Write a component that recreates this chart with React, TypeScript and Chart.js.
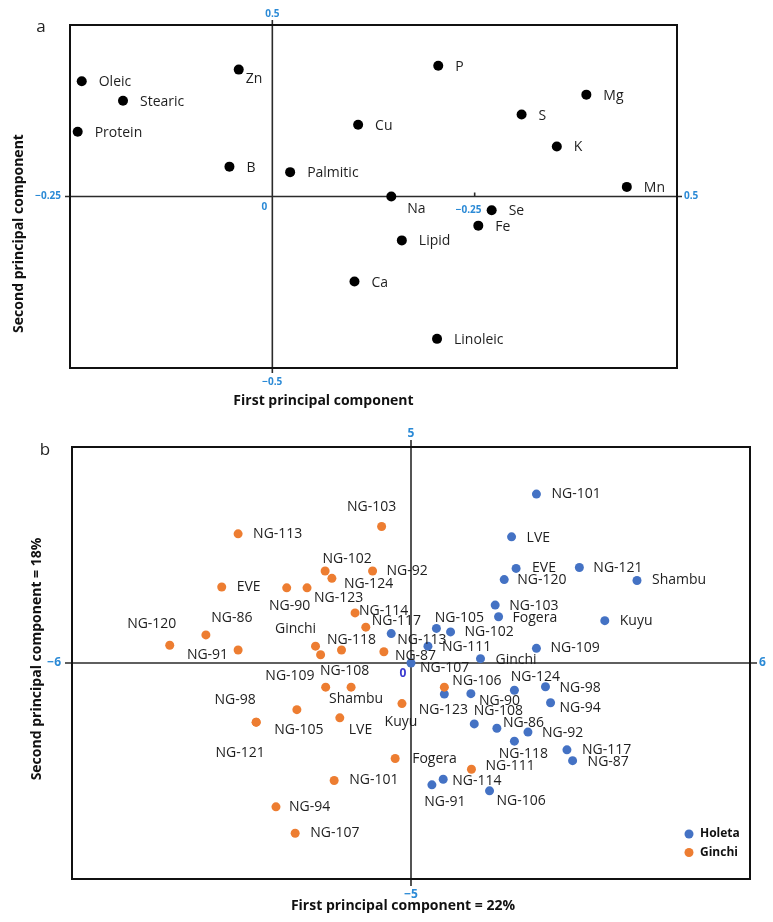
import React, { useEffect, useRef } from "react";
import { Chart, registerables } from "chart.js";

Chart.register(...registerables);

// ---------------- Panel a: variable loadings ----------------
const variableNames = ["Oleic", "Stearic", "Protein", "Zn", "B", "Palmitic", "Cu", "Na", "P", "Mg", "S", "K", "Mn", "Se", "Fe", "Lipid", "Ca", "Linoleic"];
const variablePC1 = [-0.471, -0.369, -0.481, -0.083, -0.106, 0.044, 0.212, 0.294, 0.41, 0.776, 0.616, 0.703, 0.876, 0.542, 0.509, 0.32, 0.203, 0.407];
const variablePC2 = [0.336, 0.279, 0.189, 0.37, 0.087, 0.071, 0.209, 0.0, 0.381, 0.297, 0.239, 0.146, 0.028, -0.04, -0.085, -0.128, -0.248, -0.415];
const panelATickLabels = ["0.5", "−0.5", "−0.25", "0.5", "0", "−0.25"]; // top, bottom, left, right, origin, mid-axis

// ---------------- Panel b: genotype scores ----------------
const holetaNames = ["NG-101", "LVE", "EVE", "NG-121", "NG-120", "Shambu", "NG-103", "Fogera", "Kuyu", "NG-105", "NG-102", "NG-109", "Ginchi", "NG-111", "NG-107", "NG-113", "NG-123", "NG-90", "NG-124", "NG-98", "NG-94", "NG-108", "NG-86", "NG-92", "NG-118", "NG-117", "NG-87", "NG-114", "NG-91", "NG-106"];
const holetaPC1 = [2.22, 1.78, 1.86, 2.98, 1.65, 4.0, 1.49, 1.55, 3.43, 0.45, 0.7, 2.22, 1.23, 0.3, 0.0, -0.35, 0.59, 1.06, 1.83, 2.38, 2.47, 1.12, 1.52, 2.07, 1.83, 2.76, 2.86, 0.57, 0.37, 1.39];
const holetaPC2 = [3.91, 2.92, 2.19, 2.21, 1.93, 1.91, 1.34, 1.07, 0.98, 0.8, 0.72, 0.34, 0.1, 0.39, 0.0, 0.68, -0.72, -0.71, -0.63, -0.55, -0.92, -1.41, -1.51, -1.6, -1.81, -2.01, -2.26, -2.69, -2.82, -2.96];

const ginchiNames = ["NG-103", "NG-113", "NG-102", "NG-92", "NG-124", "EVE", "NG-90", "NG-123", "NG-114", "NG-117", "NG-86", "NG-120", "NG-91", "Ginchi", "NG-118", "NG-109", "NG-87", "NG-108", "Shambu", "NG-105", "NG-98", "NG-121", "LVE", "Kuyu", "Fogera", "NG-101", "NG-94", "NG-107", "NG-106", "NG-111"];
const ginchiPC1 = [-0.52, -3.06, -1.52, -0.68, -1.4, -3.35, -2.2, -1.84, -0.99, -0.8, -3.63, -4.27, -3.06, -1.69, -1.23, -1.6, -0.48, -1.51, -1.06, -2.02, -2.74, -2.74, -1.26, -0.16, -0.28, -1.36, -2.39, -2.05, 0.59, 1.07];
const ginchiPC2 = [3.16, 2.99, 2.13, 2.13, 1.96, 1.76, 1.74, 1.74, 1.16, 0.83, 0.65, 0.41, 0.3, 0.39, 0.3, 0.19, 0.26, -0.56, -0.56, -1.08, -1.37, -1.37, -1.27, -0.94, -2.21, -2.72, -3.33, -3.94, -0.56, -2.46];
const panelBTickLabels = ["5", "−5", "−6", "6", "0"]; // top, bottom, left, right, origin
const locationNames = ["Holeta", "Ginchi"];

// ---------------- label placements (layout only) ----------------
type Place = [number, number, "l" | "c" | "r"];
const variablePlace: Place[] = variableNames.map((n) =>
  n === "Zn" ? [7, 9, "l"] : n === "Na" ? [16, 13, "l"] : [17, 1, "l"]
);
const holetaPlace: Place[] = [
  [15, 0, "l"], [15, 1, "l"], [16, 0, "l"], [14, 0, "l"], [13, 0, "l"], [15, 0, "l"], [14, 1, "l"], [14, 1, "l"], [15, 0, "l"], [23, -10, "c"],
  [14, 0, "l"], [14, 0, "l"], [15, 1, "l"], [14, 1, "l"], [9, 5, "l"], [6, 6, "l"], [-1, 16, "c"], [8, 7, "l"], [21, -13, "c"], [14, 1, "l"],
  [9, 5, "l"], [24, -13, "c"], [6, -5, "l"], [14, 1, "l"], [9, 13, "c"], [15, 0, "l"], [15, 1, "l"], [9, 2, "l"], [13, 17, "c"], [7, 10, "l"],
];
const ginchiPlace: Place[] = [
  [-10, -19, "c"], [15, 0, "l"], [22, -12, "c"], [14, 0, "l"], [12, 6, "l"], [15, 0, "l"], [3, 18, "c"], [7, 10, "l"], [4, -2, "l"], [6, -6, "l"],
  [26, -17, "c"], [-18, -21, "c"], [-10, 5, "r"], [-20, -17, "c"], [10, -10, "c"], [-6, 21, "r"], [11, 4, "l"], [19, -16, "c"], [5, 12, "c"], [2, 20, "c"],
  [-21, -22, "c"], [-16, 31, "c"], [9, 12, "l"], [-1, 18, "c"], [17, 1, "l"], [15, 0, "l"], [13, 0, "l"], [15, 0, "l"], [8, -6, "l"], [14, -3, "l"],
];

const FONT = '"Open Sans", "Liberation Sans", sans-serif';
const TICK_BLUE = "#2b8ad6";
const BLUE = "#4472c4";
const ORANGE = "#ed7d31";

function txt(ctx: CanvasRenderingContext2D, s: string, x: number, y: number, font: string, color: string, align: CanvasTextAlign = "center") {
  ctx.font = font;
  ctx.fillStyle = color;
  ctx.textAlign = align;
  ctx.textBaseline = "middle";
  ctx.fillText(s, x, y);
}

interface SeriesSpec {
  names: string[];
  xs: number[];
  ys: number[];
  color: string;
  radius: number;
  place: Place[];
}

interface PanelSpec {
  top: number;
  height: number;
  padding: { left: number; top: number; right: number; bottom: number };
  xRange: [number, number];
  yRange: [number, number];
  series: SeriesSpec[];
  labelFont: string;
  letter: string;
  letterPos: [number, number];
  xTitle: string;
  yTitle: string;
  xTitleDx: number;
  xTitleDy: number;
  yTitleX: number;
  yTitleDy: number;
  tickFont: string;
  tickLabels: string[];
  tickLen: number;
  originColor: string;
  midValue?: number;
  legend?: string[];
  legendColors?: string[];
}

function makeDecor(spec: PanelSpec) {
  return {
    id: "decor",
    beforeDatasetsDraw(chart: any) {
      const { ctx, chartArea: a, scales } = chart;
      const x0 = scales.x.getPixelForValue(0);
      const y0 = scales.y.getPixelForValue(0);
      const t = spec.tickLen;
      ctx.save();
      ctx.strokeStyle = "#2b2b2b";
      ctx.lineWidth = 1.6;
      ctx.beginPath();
      ctx.moveTo(x0, a.top - t);
      ctx.lineTo(x0, a.bottom + t);
      ctx.moveTo(a.left - t, y0);
      ctx.lineTo(a.right + t, y0);
      if (spec.midValue !== undefined) {
        const xm = scales.x.getPixelForValue(spec.midValue);
        ctx.moveTo(xm, y0 - 4);
        ctx.lineTo(xm, y0);
      }
      ctx.stroke();
      ctx.strokeStyle = "#111";
      ctx.lineWidth = 2;
      ctx.strokeRect(a.left, a.top, a.right - a.left, a.bottom - a.top);

      const tl = spec.tickLabels;
      txt(ctx, tl[0], x0, a.top - t - 6, spec.tickFont, TICK_BLUE);
      txt(ctx, tl[1], x0, a.bottom + t + 9, spec.tickFont, TICK_BLUE);
      txt(ctx, tl[2], a.left - t - 4, y0, spec.tickFont, TICK_BLUE, "right");
      txt(ctx, tl[3], a.right + t + 2, y0, spec.tickFont, TICK_BLUE, "left");
      txt(ctx, tl[4], x0 - 8, y0 + 11, spec.tickFont, spec.originColor);
      if (spec.midValue !== undefined && tl[5]) {
        const xm = scales.x.getPixelForValue(spec.midValue);
        txt(ctx, tl[5], xm - 6, y0 + 14, spec.tickFont, TICK_BLUE);
      }
      ctx.restore();
    },
    afterDatasetsDraw(chart: any) {
      const { ctx, chartArea: a } = chart;
      ctx.save();
      // point labels
      chart.data.datasets.forEach((_: any, di: number) => {
        const s = spec.series[di];
        const meta = chart.getDatasetMeta(di);
        meta.data.forEach((el: any, i: number) => {
          const [dx, dy, al] = s.place[i];
          const align: CanvasTextAlign = al === "l" ? "left" : al === "r" ? "right" : "center";
          txt(ctx, s.names[i], el.x + dx, el.y + dy, spec.labelFont, "#1e1e1e", align);
        });
      });
      // panel letter
      txt(ctx, spec.letter, spec.letterPos[0], spec.letterPos[1], `17px ${FONT}`, "#222");
      // axis titles
      const cx = (a.left + a.right) / 2 + spec.xTitleDx;
      txt(ctx, spec.xTitle, cx, a.bottom + spec.xTitleDy, `bold 14px ${FONT}`, "#111");
      ctx.save();
      ctx.translate(spec.yTitleX, (a.top + a.bottom) / 2 + spec.yTitleDy);
      ctx.rotate(-Math.PI / 2);
      txt(ctx, spec.yTitle, 0, 0, `bold 14px ${FONT}`, "#111");
      ctx.restore();
      // legend
      if (spec.legend && spec.legendColors) {
        spec.legend.forEach((name, i) => {
          const lx = a.right - 61;
          const ly = a.bottom - 45 + i * 18.5;
          ctx.beginPath();
          ctx.fillStyle = spec.legendColors![i];
          ctx.arc(lx, ly, 4.5, 0, Math.PI * 2);
          ctx.fill();
          txt(ctx, name, lx + 11, ly, `bold 12px ${FONT}`, "#111", "left");
        });
      }
      ctx.restore();
    },
  };
}

function Panel({ spec }: { spec: PanelSpec }) {
  const ref = useRef<HTMLCanvasElement>(null);
  useEffect(() => {
    if (!ref.current) return;
    const chart = new Chart(ref.current, {
      type: "scatter",
      data: {
        datasets: spec.series.map((s) => ({
          label: "",
          data: s.xs.map((x, i) => ({ x, y: s.ys[i] })),
          backgroundColor: s.color,
          borderColor: s.color,
          borderWidth: 0,
          pointRadius: s.radius,
          pointHoverRadius: s.radius,
        })),
      },
      options: {
        responsive: false,
        animation: false,
        devicePixelRatio: 1,
        events: [],
        layout: { padding: spec.padding },
        plugins: { legend: { display: false }, tooltip: { enabled: false } },
        scales: {
          x: { type: "linear", display: false, min: spec.xRange[0], max: spec.xRange[1] },
          y: { type: "linear", display: false, min: spec.yRange[0], max: spec.yRange[1] },
        },
      },
      plugins: [makeDecor(spec)],
    } as any);
    return () => chart.destroy();
  }, [spec]);
  return (
    <canvas
      ref={ref}
      width={773}
      height={spec.height}
      style={{ position: "absolute", left: 0, top: spec.top, width: 773, height: spec.height, display: "block" }}
    />
  );
}

const specA: PanelSpec = {
  top: 0,
  height: 420,
  padding: { left: 70, top: 25, right: 96, bottom: 52 },
  xRange: [-0.5, 1.0],
  yRange: [-0.5, 0.5],
  series: [{ names: variableNames, xs: variablePC1, ys: variablePC2, color: "#000", radius: 5, place: variablePlace }],
  labelFont: `14px ${FONT}`,
  letter: "a",
  letterPos: [41, 27],
  xTitle: "First principal component",
  yTitle: "Second principal component",
  xTitleDx: -50,
  xTitleDy: 33,
  yTitleX: 19,
  yTitleDy: 37,
  tickFont: `bold 10px ${FONT}`,
  tickLabels: panelATickLabels,
  tickLen: 5,
  originColor: TICK_BLUE,
  midValue: 0.5,
};

const specB: PanelSpec = {
  top: 420,
  height: 502,
  padding: { left: 72, top: 27, right: 23, bottom: 43 },
  xRange: [-6, 6],
  yRange: [-5, 5],
  series: [
    { names: ginchiNames, xs: ginchiPC1, ys: ginchiPC2, color: ORANGE, radius: 4.5, place: ginchiPlace },
    { names: holetaNames, xs: holetaPC1, ys: holetaPC2, color: BLUE, radius: 4.5, place: holetaPlace },
  ],
  labelFont: `14px ${FONT}`,
  letter: "b",
  letterPos: [45, 30],
  xTitle: "First principal component = 22%",
  yTitle: "Second principal component = 18%",
  xTitleDx: -8,
  xTitleDy: 27,
  yTitleX: 37,
  yTitleDy: -4,
  tickFont: `bold 12px ${FONT}`,
  tickLabels: panelBTickLabels,
  tickLen: 7,
  originColor: "#3a3ad0",
  legend: locationNames,
  legendColors: [BLUE, ORANGE],
};

export default function App() {
  return (
    <div style={{ position: "absolute", left: 0, top: 0, width: 773, height: 922, background: "#fff" }}>
      <Panel spec={specA} />
      <Panel spec={specB} />
    </div>
  );
}
